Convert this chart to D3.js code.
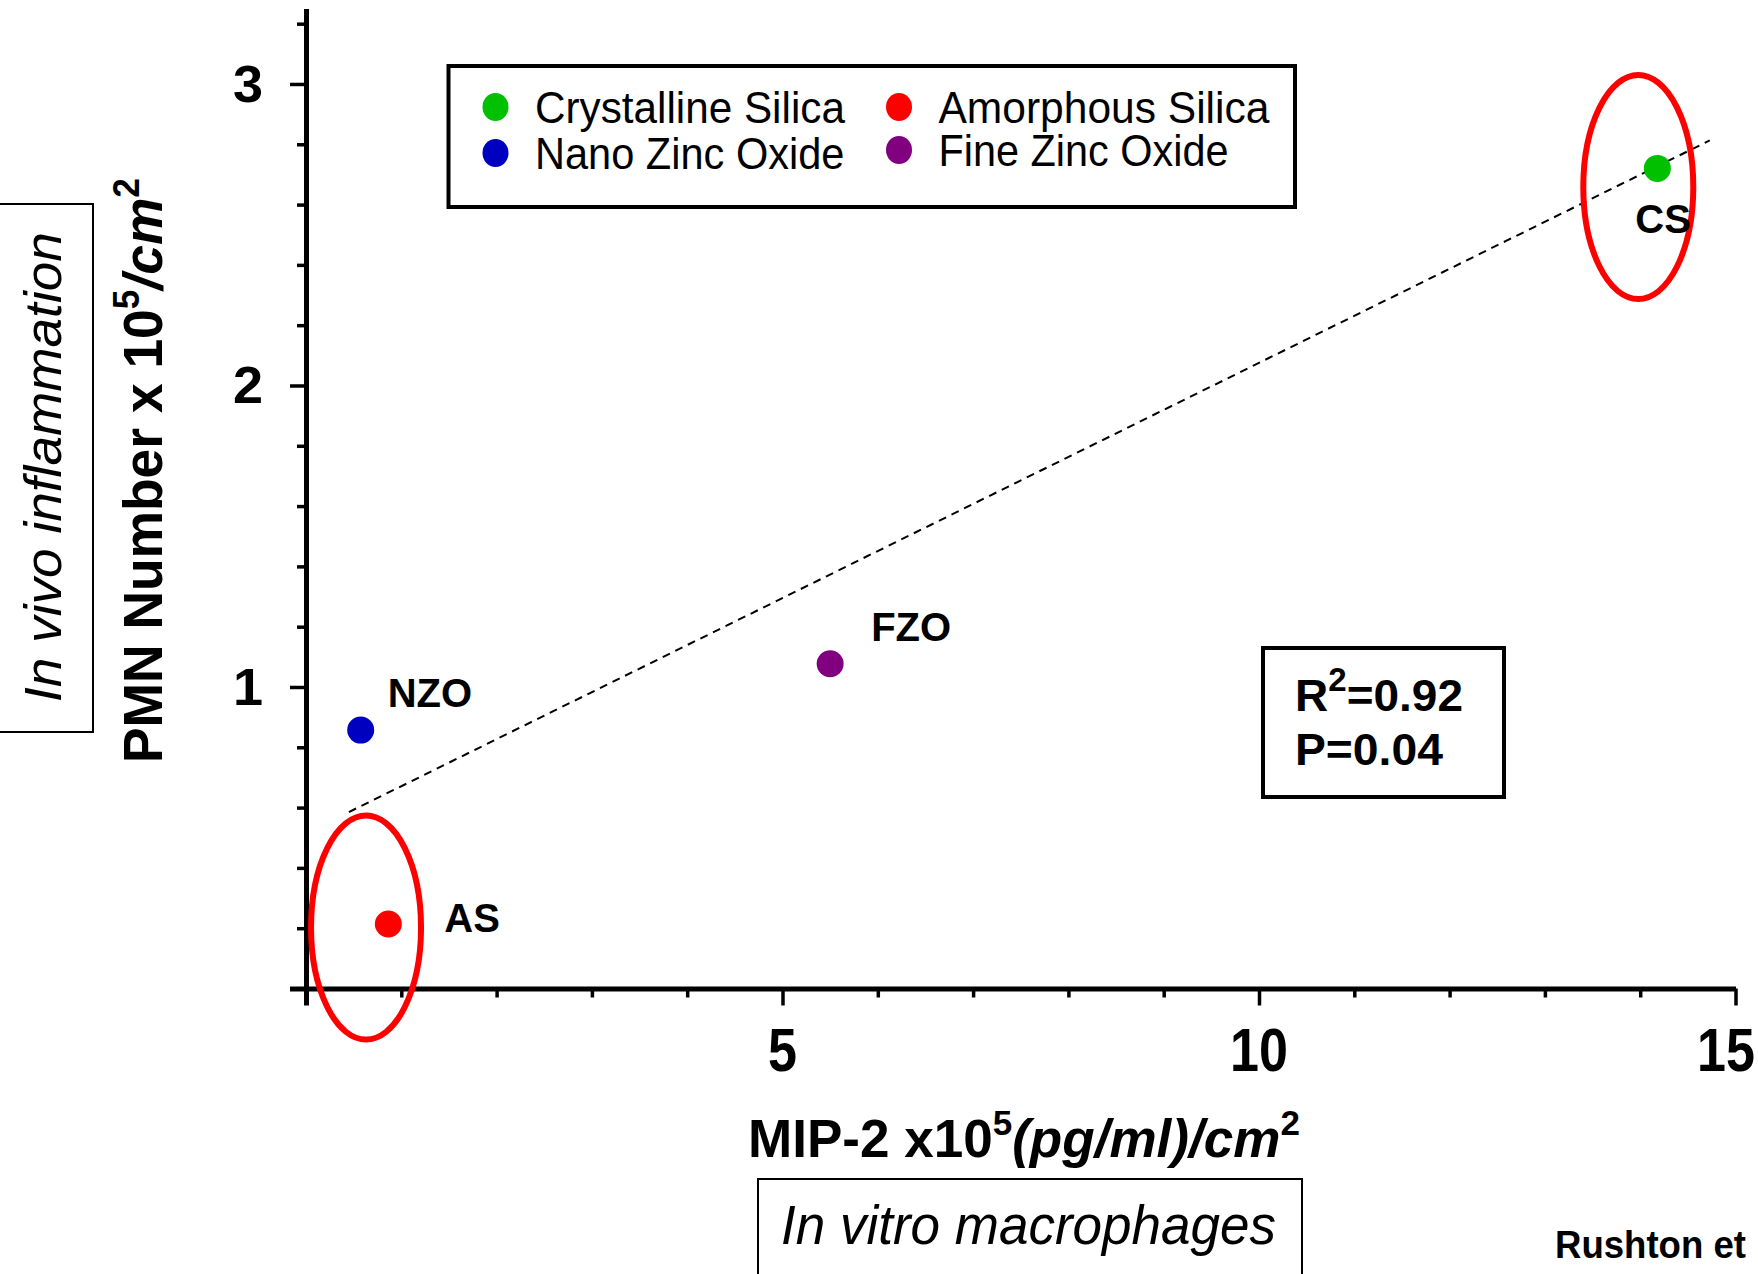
<!DOCTYPE html>
<html>
<head>
<meta charset="utf-8">
<script src="https://cdn.jsdelivr.net/npm/d3@7"></script>
<style>
  html, body { margin: 0; padding: 0; background: #ffffff; }
  svg { display: block; }
  text { font-family: "Liberation Sans", Arial, Helvetica, sans-serif; fill: #000; }
</style>
</head>
<body>
<svg id="chart" width="1758" height="1274"></svg>
<script>
// ---- data ----
const samples   = ["CS", "FZO", "NZO", "AS"];
const materials = ["Crystalline Silica", "Fine Zinc Oxide", "Nano Zinc Oxide", "Amorphous Silica"];
const mip2      = [14.18, 5.50, 0.574, 0.864];   // MIP-2 x10^5 (pg/ml)/cm^2
const pmn       = [2.72, 1.077, 0.857, 0.214];   // PMN number x10^5 /cm^2
const colors    = ["#00c000", "#800080", "#0000c0", "#ff0000"];

const legendOrder = ["Crystalline Silica", "Amorphous Silica", "Nano Zinc Oxide", "Fine Zinc Oxide"];

const xMajorTicks = [0, 5, 10, 15];
const xMinorTicks = [1, 2, 3, 4, 6, 7, 8, 9, 11, 12, 13, 14];
const yMajorTicks = [0, 1, 2, 3];
const yMinorTicks = [0.2, 0.4, 0.6, 0.8, 1.2, 1.4, 1.6, 1.8, 2.2, 2.4, 2.6, 2.8, 3.2];

// fitted trend line
const trendIntercept = 0.515;
const trendSlope     = 0.156;
const trendSpan      = [0.45, 14.73];
const rSquared       = "0.92";
const pValue         = "0.04";

// circled groups (centre in data units)
const circledX = [13.98, 0.63];
const circledY = [2.658, 0.202];

// ---- layout ----
const W = 1758, H = 1274;
const svg = d3.select("#chart");
const x = d3.scaleLinear().domain([0, 15]).range([306, 1735.5]);
const y = d3.scaleLinear().domain([0, 3.25]).range([988.5, 8.6]);

// text helper: parts = [[string, {sup, italic}]...]; stretched along its run to `width`
function label(parent, opts) {
  const g = parent.append("g");
  const t = g.append("text")
    .attr("x", 0).attr("y", 0)
    .attr("text-anchor", opts.anchor || "start")
    .style("font-size", opts.size + "px")
    .style("font-weight", opts.bold ? "bold" : "normal")
    .style("font-style", opts.italic ? "italic" : "normal");
  const supScale = opts.supScale || 0.66;
  const shift = opts.size * (opts.supShift || 0.42);
  let raised = false;
  (opts.parts || [[opts.text, {}]]).forEach(([s, o]) => {
    const ts = t.append("tspan").text(s);
    if (o.italic) ts.style("font-style", "italic");
    if (o.sup && !raised) { ts.attr("dy", -shift).style("font-size", (opts.size * supScale) + "px"); raised = true; }
    else if (!o.sup && raised) { ts.attr("dy", shift); raised = false; }
    else if (o.sup) ts.style("font-size", (opts.size * supScale) + "px");
  });
  let sx = opts.scale || 1;
  const len = t.node().getComputedTextLength();
  if (opts.width) sx = opts.width / len;
  let px = opts.x;
  // keep a centred label inside the right edge of the canvas
  if (opts.maxRight !== undefined && opts.anchor === "middle") {
    const half = len * sx / 2;
    if (px + half > opts.maxRight) px = opts.maxRight - half;
  }
  g.attr("transform", `translate(${px},${opts.y})` + (opts.rotate ? ` rotate(${opts.rotate})` : "") + ` scale(${sx},1)`);
  return g;
}

// ---- axes ----
const xAxis = svg.append("g").attr("transform", `translate(0,${y(0)})`)
  .call(d3.axisBottom(x).tickValues(xMajorTicks).tickSize(17).tickSizeOuter(0).tickFormat(""));
const xAxisMinor = svg.append("g").attr("transform", `translate(0,${y(0)})`)
  .call(d3.axisBottom(x).tickValues(xMinorTicks).tickSize(9).tickSizeOuter(0).tickFormat(""));
const yAxis = svg.append("g").attr("transform", `translate(${x(0)},0)`)
  .call(d3.axisLeft(y).tickValues(yMajorTicks).tickSize(16).tickSizeOuter(0).tickFormat(""));
const yAxisMinor = svg.append("g").attr("transform", `translate(${x(0)},0)`)
  .call(d3.axisLeft(y).tickValues(yMinorTicks).tickSize(9).tickSizeOuter(0).tickFormat(""));

[xAxisMinor, yAxisMinor].forEach(a => a.select(".domain").remove());
[xAxis, yAxis].forEach(a => a.select(".domain").attr("stroke", "#000").attr("stroke-width", 5));
[xAxis, yAxis, xAxisMinor, yAxisMinor].forEach(a => {
  a.selectAll(".tick line").attr("stroke", "#000").attr("stroke-width", d => d === 0 ? 5 : 3.5);
});

// tick labels
xMajorTicks.filter(d => d !== 0).forEach(d => {
  label(svg, { x: x(d), y: 1071, text: String(d), size: 62, bold: true, anchor: "middle", scale: 0.84, maxRight: W - 3 });
});
yMajorTicks.filter(d => d !== 0).forEach(d => {
  label(svg, { x: 263, y: y(d) + 18, text: String(d), size: 51, bold: true, anchor: "end", scale: 1.06 });
});

// ---- trend line ----
svg.append("line")
  .attr("x1", x(trendSpan[0])).attr("y1", y(trendIntercept + trendSlope * trendSpan[0]))
  .attr("x2", x(trendSpan[1])).attr("y2", y(trendIntercept + trendSlope * trendSpan[1]))
  .attr("stroke", "#000").attr("stroke-width", 2).attr("stroke-dasharray", "8,6");

// ---- highlight ellipses ----
svg.selectAll("ellipse.ring").data(circledX).join("ellipse")
  .attr("class", "ring")
  .attr("cx", d => x(d)).attr("cy", (d, i) => y(circledY[i]))
  .attr("rx", 55).attr("ry", 112)
  .attr("fill", "none").attr("stroke", "#ff0000").attr("stroke-width", 6);

// ---- points ----
svg.selectAll("circle.pt").data(samples).join("circle")
  .attr("class", "pt")
  .attr("cx", (d, i) => x(mip2[i])).attr("cy", (d, i) => y(pmn[i]))
  .attr("r", 13.5).attr("fill", (d, i) => colors[i]);

// point labels, offset from their points
const labelOffset = { CS: [-22, 65], FZO: [41, -23], NZO: [27, -23], AS: [56, 8] };
samples.forEach((s, i) => {
  label(svg, { x: x(mip2[i]) + labelOffset[s][0], y: y(pmn[i]) + labelOffset[s][1], text: s, size: 40, bold: true });
});

// ---- legend ----
svg.append("rect").attr("x", 448.5).attr("y", 66).attr("width", 846.5).attr("height", 141)
  .attr("fill", "#fff").attr("stroke", "#000").attr("stroke-width", 4);
const legendCols = [495.5, 899];
const legendRows = [107, 153];
const legendWidths = [310, 331, 309.5, 290];
legendOrder.forEach((m, k) => {
  const i = materials.indexOf(m);
  const cx = legendCols[k % 2], cy = legendRows[Math.floor(k / 2)] - (k === 3 ? 3 : 0);
  svg.append("ellipse").attr("cx", cx).attr("cy", cy).attr("rx", 13).attr("ry", 14).attr("fill", colors[i]);
  label(svg, { x: cx + 39.5, y: cy + 16, text: m, size: 44, width: legendWidths[k] });
});

// ---- statistics box ----
svg.append("rect").attr("x", 1263).attr("y", 648).attr("width", 241).attr("height", 149)
  .attr("fill", "none").attr("stroke", "#000").attr("stroke-width", 4);
label(svg, { x: 1295, y: 711, size: 45, bold: true, width: 168, supScale: 0.72, supShift: 0.45,
  parts: [["R", {}], ["2", { sup: true }], ["=" + rSquared, {}]] });
label(svg, { x: 1295, y: 765, size: 45, bold: true, width: 148, text: "P=" + pValue });

// ---- axis titles ----
label(svg, { x: 748, y: 1157, size: 53, bold: true, width: 552,
  parts: [["MIP-2 x10", {}], ["5", { sup: true }], ["(pg/ml)/cm", { italic: true }], ["2", { sup: true }]] });
label(svg, { x: 162, y: 763, rotate: -90, size: 55, bold: true, width: 585,
  parts: [["PMN Number x 10", {}], ["5", { sup: true }], ["/cm", { italic: true }], ["2", { sup: true }]] });

// framed captions
svg.append("rect").attr("x", -5).attr("y", 204).attr("width", 98).attr("height", 528)
  .attr("fill", "none").attr("stroke", "#000").attr("stroke-width", 2);
label(svg, { x: 61, y: 702, rotate: -90, size: 52, italic: true, width: 470, text: "In vivo inflammation" });

svg.append("rect").attr("x", 758).attr("y", 1179).attr("width", 544).attr("height", 140)
  .attr("fill", "none").attr("stroke", "#000").attr("stroke-width", 2);
label(svg, { x: 781, y: 1244, size: 56, italic: true, width: 495, text: "In vitro macrophages" });

label(svg, { x: 1555, y: 1258, size: 39, bold: true, width: 191, text: "Rushton et" });
</script>
</body>
</html>
